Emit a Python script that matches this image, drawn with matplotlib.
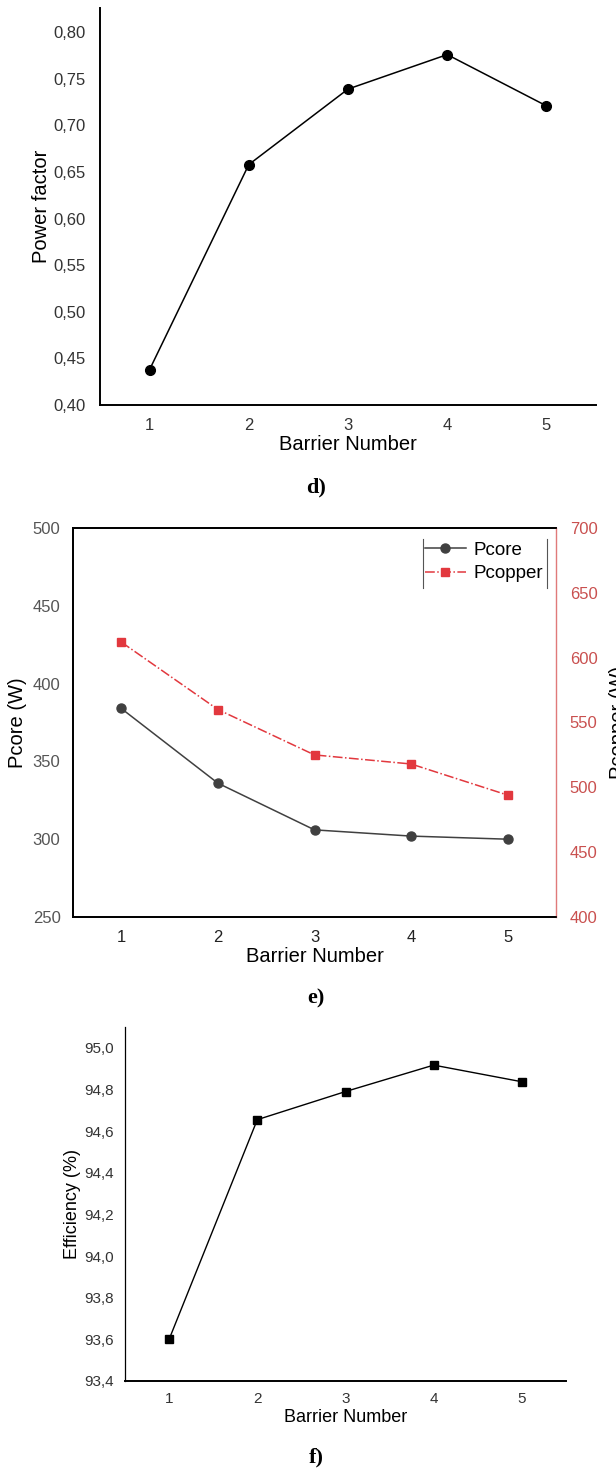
import matplotlib
matplotlib.use("Agg")
import matplotlib.pyplot as plt
from matplotlib.ticker import FuncFormatter

plt.rcParams['font.family'] = ['Liberation Sans', 'DejaVu Sans']

barriers = [1, 2, 3, 4, 5]
power_factor = [0.438, 0.658, 0.739, 0.776, 0.721]
pcore = [384, 336, 306, 302, 300]
pcopper = [612, 560, 525, 518, 494]
efficiency = [93.60, 94.655, 94.79, 94.917, 94.837]

pf_ticks = [0.40, 0.45, 0.50, 0.55, 0.60, 0.65, 0.70, 0.75, 0.80]
core_ticks = [250, 300, 350, 400, 450, 500]
copper_ticks = [400, 450, 500, 550, 600, 650, 700]
eff_ticks = [93.4, 93.6, 93.8, 94.0, 94.2, 94.4, 94.6, 94.8, 95.0]

W, H = 616, 1473
fig = plt.figure(figsize=(W / 100, H / 100), dpi=100)


def rect(l, t, r, b):
    return [l / W, 1 - b / H, (r - l) / W, (b - t) / H]


def comma(fmt):
    return FuncFormatter(lambda v, p: (fmt % v).replace('.', ','))


red = '#e2383e'

# ---- d) power factor
ax1 = fig.add_axes(rect(100, 8, 596, 405))
ax1.plot(barriers, power_factor, color='black', lw=1.1, marker='o', ms=7)
ax1.set_xlim(0.5, 5.5)
ax1.set_ylim(0.40, 0.826)
ax1.set_xticks(barriers)
ax1.set_yticks(pf_ticks)
ax1.yaxis.set_major_formatter(comma('%.2f'))
for s in ['top', 'right']:
    ax1.spines[s].set_visible(False)
for s in ['left', 'bottom']:
    ax1.spines[s].set_linewidth(1.4)
ax1.tick_params(length=0, labelsize=12, labelcolor='#333333')
ax1.tick_params(axis='y', pad=10)
ax1.tick_params(axis='x', pad=9)
ax1.set_ylabel('Power factor', fontsize=14.5, labelpad=2)
ax1.set_xlabel('Barrier Number', fontsize=14.5, labelpad=2)
fig.text(316 / W, 1 - 487 / H, 'd)', family='Liberation Serif', weight='bold',
         fontsize=16, ha='center', va='center')

# ---- e) losses
ax2 = fig.add_axes(rect(73, 528, 556, 917))
ax3 = ax2.twinx()
l1, = ax2.plot(barriers, pcore, color='#404040', lw=1.1, marker='o', ms=6.5,
               label='Pcore')
l2, = ax3.plot(barriers, pcopper, color=red, lw=1.1, ls='-.', marker='s', ms=5.5,
               label='Pcopper')
ax2.set_xlim(0.5, 5.5)
ax2.set_ylim(250, 500)
ax3.set_ylim(400, 700)
ax2.set_xticks(barriers)
ax2.set_yticks(core_ticks)
ax3.set_yticks(copper_ticks)
for s in ['top', 'left', 'bottom']:
    ax2.spines[s].set_linewidth(1.3)
    ax3.spines[s].set_linewidth(1.3)
ax3.spines['right'].set_color('#e07a7a')
ax3.spines['right'].set_linewidth(1.0)
ax2.spines['right'].set_visible(False)
ax2.tick_params(length=0, labelsize=12, pad=9)
ax2.tick_params(axis='y', labelcolor='#555555')
ax2.tick_params(axis='x', labelcolor='#222222')
ax3.tick_params(length=0, labelsize=12, labelcolor='#c9504f', pad=10)
ax2.set_ylabel('Pcore (W)', fontsize=14.5, labelpad=4)
ax3.set_ylabel('Pcopper (W)', fontsize=14.5, labelpad=8)
ax2.set_xlabel('Barrier Number', fontsize=14.5, labelpad=2)
leg = ax2.legend([l1, l2], ['Pcore', 'Pcopper'], loc='upper left',
                 bbox_to_anchor=(0.72, 0.975), frameon=False, fontsize=13.5,
                 handlelength=2.2, handletextpad=0.4, labelspacing=0.35,
                 borderaxespad=0.0, borderpad=0.2)
for xf in [0.724, 0.981]:
    ax2.plot([xf, xf], [0.846, 0.972], transform=ax2.transAxes, color='#555555',
             lw=0.8, clip_on=False)
fig.text(316 / W, 1 - 998 / H, 'e)', family='Liberation Serif', weight='bold',
         fontsize=16, ha='center', va='center')

# ---- f) efficiency
ax4 = fig.add_axes(rect(125, 1027, 566, 1381))
ax4.plot(barriers, efficiency, color='black', lw=1.0, marker='s', ms=6.3)
ax4.set_xlim(0.5, 5.5)
ax4.set_ylim(93.4, 95.1)
ax4.set_xticks(barriers)
ax4.set_yticks(eff_ticks)
ax4.yaxis.set_major_formatter(comma('%.1f'))
for s in ['top', 'right']:
    ax4.spines[s].set_visible(False)
ax4.spines['left'].set_linewidth(0.9)
ax4.spines['bottom'].set_linewidth(1.4)
ax4.tick_params(length=0, labelsize=11, labelcolor='#333333', pad=8)
ax4.set_ylabel('Efficiency (%)', fontsize=13, labelpad=2)
ax4.set_xlabel('Barrier Number', fontsize=13, labelpad=2)
fig.text(316 / W, 1 - 1457 / H, 'f)', family='Liberation Serif', weight='bold',
         fontsize=16, ha='center', va='center')

fig.savefig('out.png', dpi=100)
